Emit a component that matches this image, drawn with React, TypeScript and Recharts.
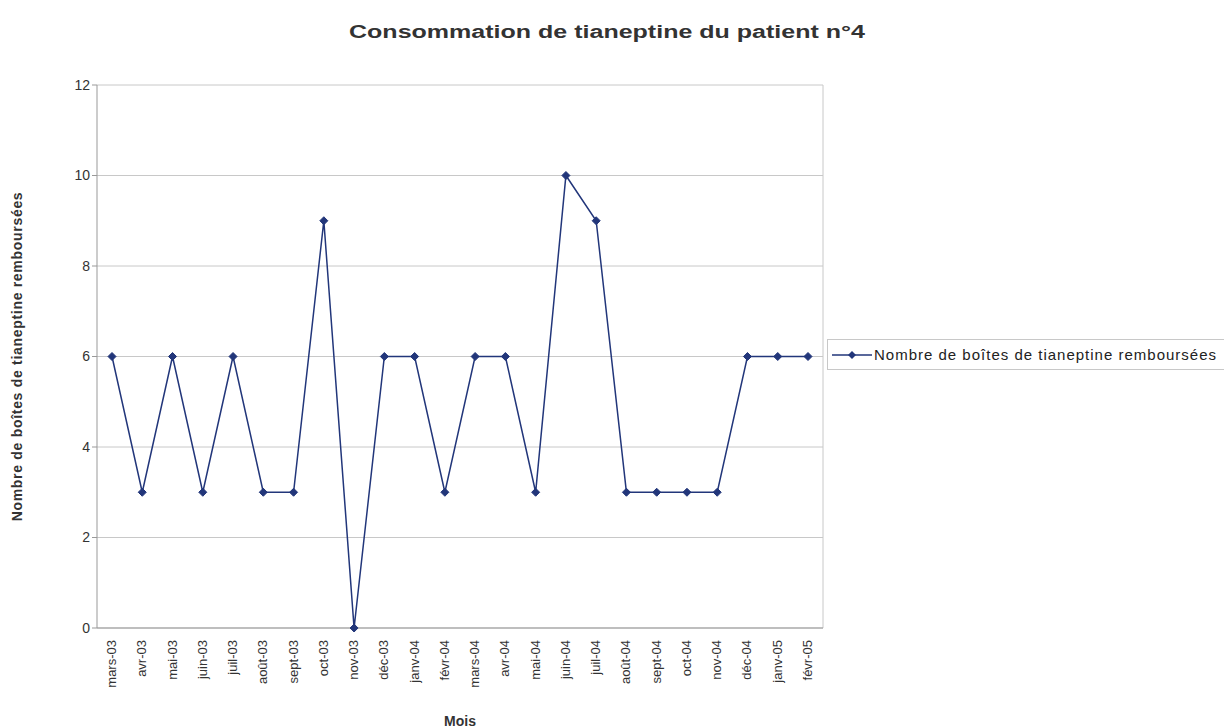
import { LineChart, Line, XAxis, YAxis, CartesianGrid, Label } from 'recharts';

const months = [
  'mars-03', 'avr-03', 'mai-03', 'juin-03', 'juil-03', 'août-03', 'sept-03', 'oct-03',
  'nov-03', 'déc-03', 'janv-04', 'févr-04', 'mars-04', 'avr-04', 'mai-04', 'juin-04',
  'juil-04', 'août-04', 'sept-04', 'oct-04', 'nov-04', 'déc-04', 'janv-05', 'févr-05',
];

const boites = [6, 3, 6, 3, 6, 3, 3, 9, 0, 6, 6, 3, 6, 6, 3, 10, 9, 3, 3, 3, 3, 6, 6, 6];

const yTicks = [0, 2, 4, 6, 8, 10, 12];

const seriesName = 'Nombre de boîtes de tianeptine remboursées';

const data = months.map((m, i) => ({ mois: m, boites: boites[i] }));

const LINE = '#22367a';
const FONT = 'Arial, "Liberation Sans", sans-serif';

function Diamond(props: any) {
  const { cx, cy } = props;
  if (cx == null || cy == null) return null;
  const r = 4;
  return (
    <polygon
      points={`${cx},${cy - r} ${cx + r},${cy} ${cx},${cy + r} ${cx - r},${cy}`}
      fill={LINE}
      stroke={LINE}
    />
  );
}

function MonthTick(props: any) {
  const { x, y, payload } = props;
  return (
    <text
      transform={`translate(${x + 4},${y + 4}) rotate(-90)`}
      textAnchor="end"
      fontSize={13}
      fill="#333"
      fontFamily={FONT}
    >
      {payload.value}
    </text>
  );
}

function LegendBox() {
  return (
    <div
      style={{
        position: 'absolute',
        left: 827,
        top: 339,
        width: 392,
        border: '1px solid #c8c8c8',
        padding: '6px 2px 6px 4px',
        display: 'flex',
        alignItems: 'center',
        fontFamily: FONT,
        fontSize: 15,
        letterSpacing: 1,
        color: '#222',
        background: '#fff',
        whiteSpace: 'nowrap',
      }}
    >
      <svg width={40} height={12} style={{ marginRight: 2 }}>
        <line x1={0} y1={6} x2={40} y2={6} stroke={LINE} strokeWidth={1.5} />
        <polygon points="20,2 24,6 20,10 16,6" fill={LINE} />
      </svg>
      {seriesName}
    </div>
  );
}

export default function App() {
  return (
    <div style={{ position: 'absolute', left: 0, top: 0, width: 1224, height: 728, background: '#fff' }}>
      <div
        style={{
          position: 'absolute',
          left: 0,
          top: 22,
          width: 1214,
          textAlign: 'center',
          fontFamily: FONT,
          fontWeight: 'bold',
          fontSize: 18,
          color: '#333',
          transform: 'scaleX(1.39)',
          transformOrigin: '607px 0',
        }}
      >
        Consommation de tianeptine du patient n°4
      </div>
      <LineChart
        width={1224}
        height={728}
        data={data}
        margin={{ top: 85, right: 401, bottom: 0, left: 0 }}
      >
        <CartesianGrid
          stroke="#c8c8c8"
          verticalCoordinatesGenerator={({ offset }: any) => [offset.left + offset.width]}
        />
        <XAxis
          dataKey="mois"
          interval={0}
          height={100}
          padding={{ left: 15, right: 15 }}
          tick={<MonthTick />}
          tickLine={false}
          axisLine={{ stroke: '#999' }}
        >
          <Label
            value="Mois"
            position="insideBottom"
            offset={2}
            style={{ fontFamily: FONT, fontSize: 14, fontWeight: 'bold', fill: '#333' }}
          />
        </XAxis>
        <YAxis
          domain={[0, 12]}
          ticks={yTicks}
          width={97}
          tickSize={5}
          tickLine={{ stroke: '#999' }}
          axisLine={{ stroke: '#999' }}
          tick={{ fontFamily: FONT, fontSize: 14, fill: '#333' }}
        >
          <Label
            value={seriesName}
            angle={-90}
            position="insideLeft"
            offset={17}
            style={{
              textAnchor: 'middle',
              fontFamily: FONT,
              fontSize: 14,
              letterSpacing: 0.7,
              fontWeight: 'bold',
              fill: '#333',
            }}
          />
        </YAxis>
        <Line
          type="linear"
          dataKey="boites"
          name={seriesName}
          stroke={LINE}
          strokeWidth={1.5}
          dot={<Diamond />}
          activeDot={false}
          isAnimationActive={false}
        />
      </LineChart>
      <LegendBox />
    </div>
  );
}
